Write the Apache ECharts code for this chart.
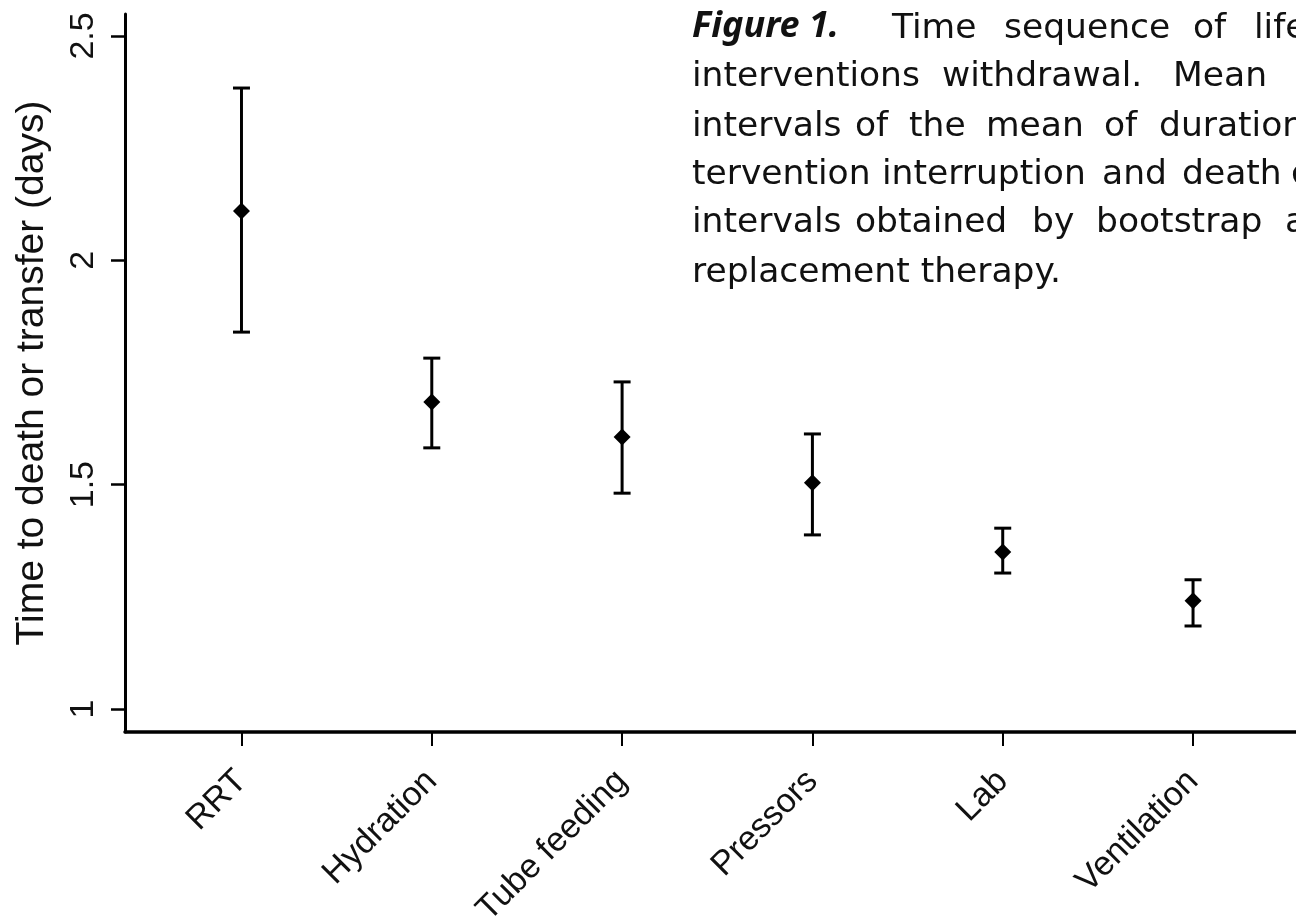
<!DOCTYPE html>
<html><head><meta charset="utf-8">
<script src="https://cdn.jsdelivr.net/npm/echarts@6/dist/echarts.min.js"></script>
<style>html,body{margin:0;padding:0;background:#fff}#c{width:1296px;height:916px}</style>
</head><body><div id="c"></div>
<script>
// ---- data ----
const categories = ["RRT", "Hydration", "Tube feeding", "Pressors", "Lab", "Ventilation"];
const meanValues = [2.110, 1.684, 1.606, 1.504, 1.350, 1.241];
const lowerCI    = [1.840, 1.582, 1.481, 1.388, 1.303, 1.185];
const upperCI    = [2.384, 1.782, 1.729, 1.613, 1.403, 1.288];
const yTickValues = [1, 1.5, 2, 2.5];
const yAxisTitle = "Time to death or transfer (days)";
const captionLines = [
  ["Figure 1.", "Time", "sequence", "of", "life"],
  ["interventions", "withdrawal.", "Mean"],
  ["intervals", "of", "the", "mean", "of", "duration"],
  ["tervention", "interruption", "and", "death", "or"],
  ["intervals", "obtained", "by", "bootstrap", "a"],
  ["replacement", "therapy."]
];

// ---- layout (not data) ----
const captionWordX = [
  [692, 892, 1004, 1193, 1254],
  [692, 942, 1173],
  [692, 855, 909, 986, 1104, 1159],
  [692, 882, 1102, 1182, 1291],
  [692, 855, 1032, 1096, 1285],
  [692, 0]
];
const captionBaseline = [39, 87, 137, 185, 233, 283];

const xIdx = categories.map((c, i) => i + 1);
const pointData = xIdx.map((x, i) => [x, meanValues[i]]);
const barData = xIdx.map((x, i) => [x, lowerCI[i], upperCI[i]]);

const bodyFont = '34.5px "DejaVu Sans"';
const graphics = [];
captionLines.forEach((words, li) => {
  if (li === captionLines.length - 1) {
    graphics.push({type: 'text', x: captionWordX[li][0], y: captionBaseline[li] - 27,
      style: {text: words.join(' '), font: bodyFont, fill: '#111'}});
    return;
  }
  words.forEach((w, wi) => {
    const first = (li === 0 && wi === 0);
    graphics.push({type: 'text', x: captionWordX[li][wi], y: captionBaseline[li] - (first ? 30 : 27),
      style: {text: w, fill: '#111',
        font: first ? 'italic bold 36px "Noto Sans"' : bodyFont}});
  });
});

const chart = echarts.init(document.getElementById('c'), null, {renderer: 'canvas'});
chart.setOption({
  animation: false,
  backgroundColor: '#fff',
  grid: {left: 125, right: 0, top: 14, bottom: 184, containLabel: false, outerBoundsMode: 'none'},
  xAxis: {
    type: 'value', min: 0.388, max: 6.541,
    splitLine: {show: false},
    axisLine: {show: true, onZero: false, lineStyle: {color: '#000', width: 3.5}},
    axisTick: {show: true, length: 14, customValues: xIdx, lineStyle: {color: '#000', width: 2}},
    axisLabel: {customValues: xIdx, rotate: 45, margin: 44, color: '#111',
      fontFamily: '"Liberation Sans"', fontSize: 34, hideOverlap: false,
      formatter: v => categories[Math.round(v) - 1] || ''}
  },
  yAxis: {
    type: 'value', min: 0.9487, max: 2.549,
    splitLine: {show: false},
    name: yAxisTitle, nameLocation: 'middle', nameRotate: 90, nameGap: 73,
    nameTextStyle: {fontFamily: '"Liberation Sans"', fontSize: 39, color: '#111'},
    axisLine: {show: true, onZero: false, lineStyle: {color: '#000', width: 3}},
    axisTick: {show: true, length: 14, customValues: yTickValues, lineStyle: {color: '#000', width: 2.5}},
    axisLabel: {customValues: yTickValues, rotate: 90, margin: 24, color: '#111',
      fontFamily: '"Liberation Sans"', fontSize: 34, formatter: v => String(v)}
  },
  series: [
    {
      type: 'custom',
      data: barData,
      z: 2,
      renderItem: function (params, api) {
        const x = api.value(0);
        const lo = api.coord([x, api.value(1)]);
        const hi = api.coord([x, api.value(2)]);
        const hw = 8.5;
        const st = {stroke: '#000', lineWidth: 3};
        return {type: 'group', children: [
          {type: 'line', shape: {x1: lo[0], y1: lo[1], x2: hi[0], y2: hi[1]}, style: st},
          {type: 'line', shape: {x1: lo[0] - hw, y1: lo[1], x2: lo[0] + hw, y2: lo[1]}, style: st},
          {type: 'line', shape: {x1: hi[0] - hw, y1: hi[1], x2: hi[0] + hw, y2: hi[1]}, style: st}
        ]};
      }
    },
    {
      type: 'scatter', data: pointData, z: 3,
      symbol: 'diamond', symbolSize: 17,
      itemStyle: {color: '#000', opacity: 1}
    }
  ],
  graphic: graphics
});
</script></body></html>
